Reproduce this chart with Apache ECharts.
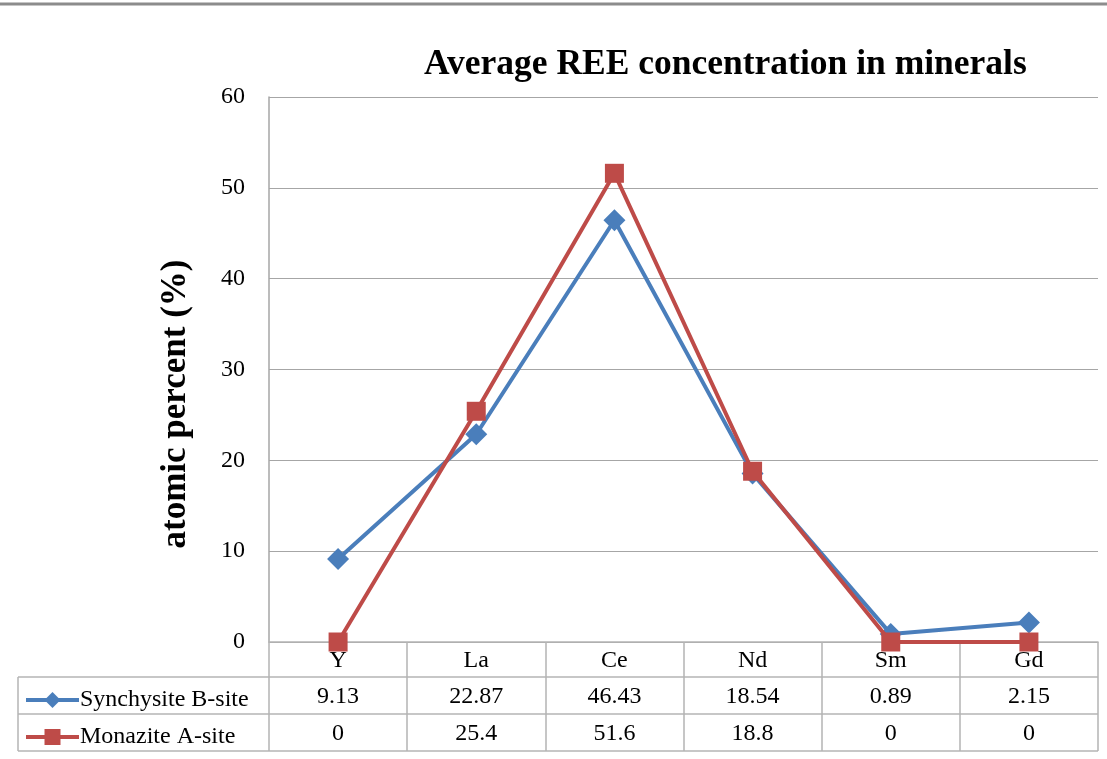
<!DOCTYPE html>
<html>
<head>
<meta charset="utf-8">
<script src="https://cdn.jsdelivr.net/npm/echarts@6/dist/echarts.min.js"></script>
<style>
  html, body { margin: 0; padding: 0; background: #fff; }
  #chart { width: 1107px; height: 759px; }
</style>
</head>
<body>
<div id="chart"></div>
<script>
// REE elements along the x axis
const categories = ['Y', 'La', 'Ce', 'Nd', 'Sm', 'Gd'];
// Average atomic percent per site
const synchysiteB = [9.13, 22.87, 46.43, 18.54, 0.89, 2.15];
const monaziteA = [0, 25.4, 51.6, 18.8, 0, 0];
const seriesNames = ['Synchysite B-site', 'Monazite A-site'];
const yTicks = { min: 0, max: 60, interval: 10 };

const FONT = '"Liberation Serif", "Times New Roman", serif';
const BLUE = '#4a7ebb';
const RED = '#be4b48';
const GRID_LINE = '#a6a6a6';
const TABLE_LINE = '#b4b4b4';

const chart = echarts.init(document.getElementById('chart'), null, { renderer: 'canvas' });

const W = 1107;
const gridBox = { left: 269, right: 9, top: 97, bottom: 117 };
const rowH = 37;       // height of each data-table row
const headerH = 35;    // height of the category row under the axis
const tableLeft = 18;

const option = {
  animation: false,
  backgroundColor: '#fff',
  title: {
    text: 'Average REE concentration in minerals',
    left: 419,
    top: 42,
    padding: 5,
    textStyle: { fontFamily: FONT, fontWeight: 'bold', fontSize: 35.5, color: '#000' }
  },
  legend: {
    orient: 'vertical',
    left: tableLeft + 6,
    top: 642 + headerH + 11,
    padding: 0,
    itemWidth: 53,
    itemHeight: 20,
    itemGap: rowH - 24,
    data: seriesNames,
    lineStyle: { width: 4 },
    textStyle: { fontFamily: FONT, fontSize: 24, color: '#000', padding: [0, 0, 0, -4], lineHeight: 24, height: 24 }
  },
  grid: { left: gridBox.left, right: gridBox.right, top: gridBox.top, bottom: gridBox.bottom, containLabel: false },
  xAxis: {
    type: 'category',
    data: categories,
    boundaryGap: true,
    axisLine: { show: true, lineStyle: { color: TABLE_LINE, width: 1.5 } },
    axisTick: { show: true, inside: false, length: headerH + rowH * 2, alignWithLabel: false, lineStyle: { color: TABLE_LINE, width: 1.5 } },
    axisLabel: { fontFamily: FONT, fontSize: 24, color: '#000', margin: 7 },
    splitLine: { show: false }
  },
  yAxis: {
    type: 'value',
    min: yTicks.min,
    max: yTicks.max,
    interval: yTicks.interval,
    axisLine: { show: true, lineStyle: { color: GRID_LINE, width: 1.5 } },
    axisTick: { show: false },
    axisLabel: { fontFamily: FONT, fontSize: 24, color: '#000', margin: 24 },
    splitLine: { show: true, lineStyle: { color: GRID_LINE, width: 1.2 } }
  },
  series: [
    {
      name: seriesNames[0],
      type: 'line',
      data: synchysiteB,
      symbol: 'diamond',
      symbolSize: 22,
      z: 2,
      lineStyle: { color: BLUE, width: 4 },
      itemStyle: { color: BLUE }
    },
    {
      name: seriesNames[1],
      type: 'line',
      data: monaziteA,
      symbol: 'rect',
      symbolSize: 19,
      z: 3,
      lineStyle: { color: RED, width: 4 },
      itemStyle: { color: RED }
    }
  ]
};

chart.setOption(option);

// Data table under the plot, laid out from the axis scale
function buildTable() {
  const axisY = chart.convertToPixel({ gridIndex: 0 }, [0, yTicks.min])[1];
  const right = W - gridBox.right;
  const rowTop1 = axisY + headerH;
  const rowTop2 = rowTop1 + rowH;
  const bottom = rowTop2 + rowH;
  const elements = [];

  // top frame line of the page
  elements.push({ type: 'line', shape: { x1: 0, y1: 4, x2: W, y2: 4 }, style: { stroke: '#8c8c8c', lineWidth: 3 } });

  [rowTop1, rowTop2, bottom].forEach(y => {
    elements.push({ type: 'line', shape: { x1: tableLeft, y1: y, x2: right, y2: y }, style: { stroke: TABLE_LINE, lineWidth: 1.5 } });
  });
  elements.push({ type: 'line', shape: { x1: tableLeft, y1: rowTop1, x2: tableLeft, y2: bottom }, style: { stroke: TABLE_LINE, lineWidth: 1.5 } });

  [synchysiteB, monaziteA].forEach((values, r) => {
    const cy = (r === 0 ? rowTop1 : rowTop2) + rowH / 2 + 1;
    values.forEach((v, i) => {
      const cx = chart.convertToPixel({ gridIndex: 0 }, [i, 0])[0];
      elements.push({
        type: 'text',
        x: cx, y: cy,
        style: { text: String(v), fontFamily: FONT, fontSize: 24, fill: '#000', align: 'center', verticalAlign: 'middle' }
      });
    });
  });

  // vertical axis title
  elements.push({
    type: 'text',
    x: 176, y: 404,
    rotation: Math.PI / 2,
    style: { text: 'atomic percent (%)', fontFamily: FONT, fontWeight: 'bold', fontSize: 35, fill: '#000', align: 'center', verticalAlign: 'middle' }
  });

  chart.setOption({ graphic: { elements: elements } });
}

buildTable();
</script>
</body>
</html>
